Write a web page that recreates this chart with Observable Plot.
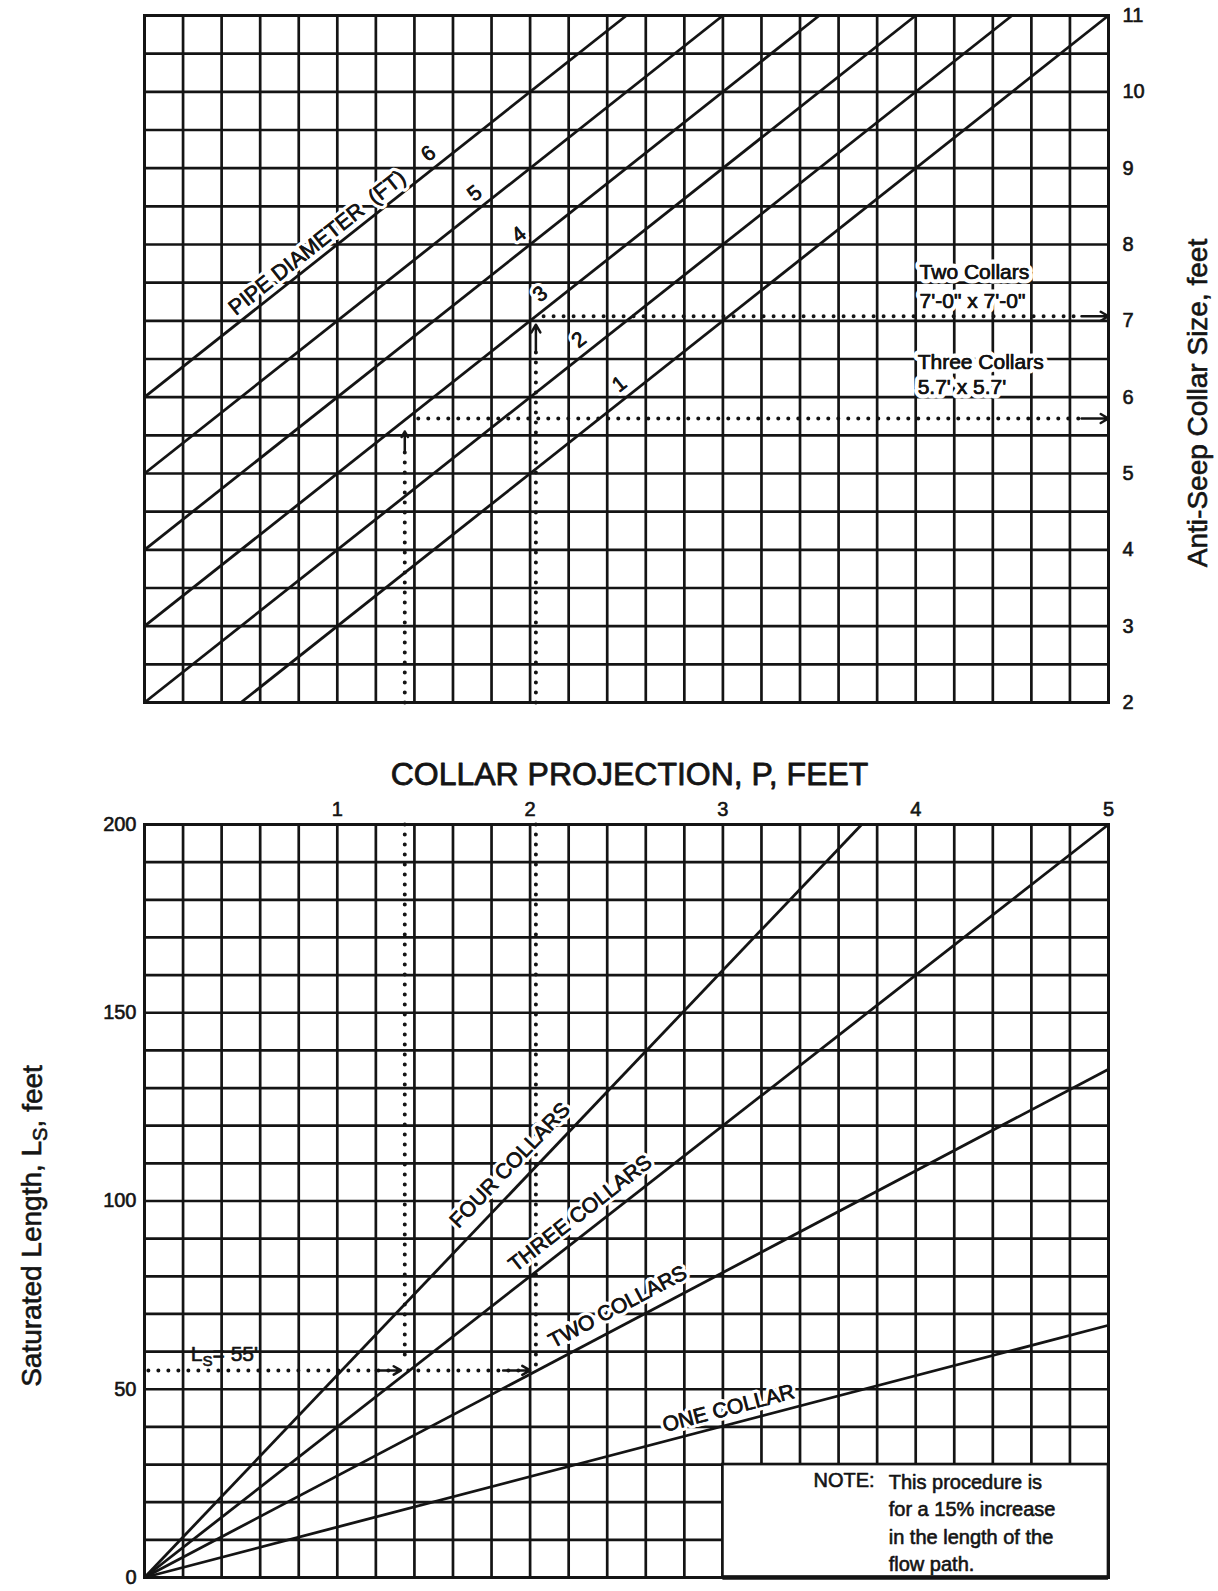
<!DOCTYPE html>
<html>
<head>
<meta charset="utf-8">
<script src="https://cdn.jsdelivr.net/npm/d3@7"></script>
<script src="https://cdn.jsdelivr.net/npm/@observablehq/plot@0.6"></script>
<style>
  html, body { margin: 0; padding: 0; background: #ffffff; }
  #wrap { position: relative; width: 1218px; height: 1591px; background: #ffffff; overflow: hidden; }
  #wrap svg { position: absolute; left: 0; }
  #wrap svg g[aria-label$="tick label"] text { stroke: #141414; stroke-width: 0.6px; }
</style>
</head>
<body>
<div id="wrap"></div>
<script>
// ================= DATA =================
// ---- Top panel: Anti-seep collar size vs. collar projection, by pipe diameter
const pipeDiameters = [1, 2, 3, 4, 5, 6];
const pipeStartP    = [0.5, 0, 0, 0, 0, 0];
const pipeStartSize = [2, 2, 3, 4, 5, 6];
const pipeEndP      = [5, 4.5, 4, 3.5, 3, 2.5];
const pipeEndSize   = [11, 11, 11, 11, 11, 11];
const pipeLabelP    = [2.51, 2.30, 2.10, 1.99, 1.76, 1.52];
const pipeTitle     = "PIPE DIAMETER  (FT)";
const pipeTitleP    = 0.94;
const sizeTicks     = [2, 3, 4, 5, 6, 7, 8, 9, 10, 11];
const sizeDomain    = [2, 11];
const sizeGridStep  = 0.5;
const sizeAxisTitle = "Anti-Seep Collar Size, feet";

// example readings drawn on the top panel
const topGuideP       = [1.35, 2.03];
const topGuideFrom    = [2, 2];
const topGuideTo      = [5.3, 6.6];
const topArrowTo      = [5.55, 6.95];
const collarSizeRead  = [5.72, 7.06];
const collarSizeFromP = [1.42, 2.07];
const readArrowFromP  = [4.86, 4.86];
const readArrowToP    = [5.0, 5.0];
const collarTextTitle = ["Three Collars", "Two Collars"];
const collarTextSize  = ["5.7' x 5.7'", "7'-0\" x 7'-0\""];
const collarTextP     = [4.01, 4.02];
const collarTextY1    = [6.46, 7.64];
const collarTextY2    = [6.13, 7.26];

// ---- Bottom panel: Saturated length vs. collar projection, by number of collars
const collarNames   = ["ONE COLLAR", "TWO COLLARS", "THREE COLLARS", "FOUR COLLARS"];
const collarEndP    = [5, 5, 5, 3.72];
const collarEndLs   = [67, 135, 200, 200];
const collarLabelP  = [3.05, 2.5, 2.32, 1.97];
const collarLabelGap = [9, 12, 12, 13];
const projDomain    = [0, 5];
const projTicks     = [1, 2, 3, 4, 5];
const projGridStep  = 0.2;
const lsDomain      = [0, 200];
const lsTicks       = [0, 50, 100, 150, 200];
const lsGridStep    = 10;
const projTitle     = "COLLAR PROJECTION, P, FEET";
const lsAxisTitle   = "Saturated Length, L_S, feet";

// example reading on the bottom panel
const lsRead          = 55;
const lsReadFromP     = 0.02;
const lsReadToP       = 2.0;
const lsLabel         = "L_S= 55'";
const lsLabelP        = 0.24;
const lsLabelY        = 59.2;
const bottomGuideP    = [1.35, 2.03];
const bottomGuideLow  = [59, 56];
const lsArrowFromP    = [1.2, 1.86];
const lsArrowToP      = [1.33, 2.0];
const noteBox         = {p1: 3, p2: 5, ls1: 0, ls2: 30};
const noteHead        = "NOTE:";
const noteLines       = ["This procedure is", "for a 15% increase", "in the length of the", "flow path."];

// ================= LAYOUT / STYLE =================
const INK = "#141414";
const FONT = '"Liberation Sans", Arial, Helvetica, sans-serif';
const W = 1218;
const TOP = {mt: 15, mb: 28, ml: 144, mr: 110, h: 730, y0: 0};
const BOT = {mt: 94, mb: 14, ml: 144, mr: 110, h: 861, y0: 730};
const GRID_W = 2.7;
const LABEL_GAP = 8;   // px between a sloped line and the text written along it

function gridValues(lo, hi, step) {
  const n = Math.round((hi - lo) / step);
  return d3.range(n + 1).map(i => +(lo + i * step).toFixed(6));
}
function screenAngle(dxData, dyData, pxX, pxY) {
  return -Math.atan2(dyData * pxY, dxData * pxX) * 180 / Math.PI;
}
// lift a point perpendicular to a sloped line (screen px -> data units)
function lift(p, v, angleDeg, gap, pxX, pxY) {
  const th = -angleDeg * Math.PI / 180;
  return [p - gap * Math.sin(th) / pxX, v + gap * Math.cos(th) / pxY];
}

const topPxP = (W - TOP.ml - TOP.mr) / (projDomain[1] - projDomain[0]);
const topPxS = (TOP.h - TOP.mt - TOP.mb) / (sizeDomain[1] - sizeDomain[0]);
const botPxP = (W - BOT.ml - BOT.mr) / (projDomain[1] - projDomain[0]);
const botPxL = (BOT.h - BOT.mt - BOT.mb) / (lsDomain[1] - lsDomain[0]);

const pipes = pipeDiameters.map((d, i) => {
  const slope = (pipeEndSize[i] - pipeStartSize[i]) / (pipeEndP[i] - pipeStartP[i]);
  const angle = screenAngle(1, slope, topPxP, topPxS);
  const [lp, ls] = lift(pipeLabelP[i], pipeStartSize[i] + (pipeLabelP[i] - pipeStartP[i]) * slope, angle, LABEL_GAP, topPxP, topPxS);
  return {d, p1: pipeStartP[i], s1: pipeStartSize[i], p2: pipeEndP[i], s2: pipeEndSize[i], lp, ls, angle};
});
const pipe6 = pipes[pipes.length - 1];
const pipeTitleRow = (() => {
  const s = pipe6.s1 + (pipeTitleP - pipe6.p1) * (pipe6.s2 - pipe6.s1) / (pipe6.p2 - pipe6.p1);
  const [p, v] = lift(pipeTitleP, s, pipe6.angle, LABEL_GAP - 1, topPxP, topPxS);
  return [{p, s: v, angle: pipe6.angle, t: pipeTitle}];
})();

const topVerticals = topGuideP.map((p, i) => ({p, from: topGuideFrom[i], to: topGuideTo[i], arrowTo: topArrowTo[i]}));
const topHorizontals = collarSizeRead.map((s, i) => ({s, from: collarSizeFromP[i], to: readArrowFromP[i], a1: readArrowFromP[i], a2: readArrowToP[i]}));
const collarTexts = collarTextTitle.map((t, i) => ({p: collarTextP[i], y1: collarTextY1[i], y2: collarTextY2[i], t, t2: collarTextSize[i]}));

const collars = collarNames.map((name, i) => {
  const slope = collarEndLs[i] / collarEndP[i];
  const angle = screenAngle(1, slope, botPxP, botPxL);
  const [lp, ll] = lift(collarLabelP[i], collarLabelP[i] * slope, angle, collarLabelGap[i], botPxP, botPxL);
  return {name, p2: collarEndP[i], l2: collarEndLs[i], lp, ll, angle};
});
const bottomVerticals = bottomGuideP.map((p, i) => ({p, low: bottomGuideLow[i]}));
const lsArrows = lsArrowFromP.map((p, i) => ({p1: p, p2: lsArrowToP[i]}));

const dotted = {stroke: INK, strokeWidth: 4, strokeDasharray: "0 10", strokeLinecap: "round"};
const halo = (w) => ({stroke: "white", strokeWidth: w, strokeLinejoin: "round", paintOrder: "stroke", fill: INK});
const ink = {stroke: INK, strokeWidth: 0.6, fill: INK};
// a text drawn with a white halo, then inked over (gives the heavy print look)
function haloText(data, opts, w) {
  return [Plot.text(data, {...opts, ...halo(w)}), Plot.text(data, {...opts, ...ink})];
}

// ================= TOP PANEL =================
const topPlot = Plot.plot({
  width: W, height: TOP.h,
  marginTop: TOP.mt, marginBottom: TOP.mb, marginLeft: TOP.ml, marginRight: TOP.mr,
  style: {fontFamily: FONT, fontSize: "20px", color: INK, background: "transparent", overflow: "visible"},
  x: {domain: projDomain, axis: null},
  y: {domain: sizeDomain, axis: "right", ticks: sizeTicks, tickSize: 0, tickPadding: 14, label: null, tickFormat: d => String(d)},
  marks: [
    Plot.ruleX(gridValues(projDomain[0], projDomain[1], projGridStep), {stroke: INK, strokeWidth: GRID_W}),
    Plot.ruleY(gridValues(sizeDomain[0], sizeDomain[1], sizeGridStep), {stroke: INK, strokeWidth: GRID_W}),
    Plot.frame({stroke: INK, strokeWidth: 3}),
    Plot.link(pipes, {x1: "p1", y1: "s1", x2: "p2", y2: "s2", stroke: INK, strokeWidth: 2.8}),
    // example guides
    Plot.link(topVerticals, {x1: "p", x2: "p", y1: "from", y2: "to", ...dotted}),
    Plot.arrow(topVerticals, {x1: "p", x2: "p", y1: "to", y2: "arrowTo", stroke: INK, strokeWidth: 2.5, headLength: 8}),
    Plot.link(topHorizontals, {x1: "from", x2: "to", y1: "s", y2: "s", ...dotted}),
    Plot.arrow(topHorizontals, {x1: "a1", x2: "a2", y1: "s", y2: "s", stroke: INK, strokeWidth: 2.5, headLength: 8}),
    // labels
    ...haloText(pipes, {x: "lp", y: "ls", text: d => String(d.d), rotate: "angle", lineAnchor: "bottom", fontSize: 21}, 7),
    ...haloText(pipeTitleRow, {x: "p", y: "s", text: "t", rotate: "angle", lineAnchor: "bottom", fontSize: 21.5}, 7),
    ...haloText(collarTexts, {x: "p", y: "y1", text: "t", textAnchor: "start", fontSize: 21}, 9),
    ...haloText(collarTexts, {x: "p", y: "y2", text: "t2", textAnchor: "start", fontSize: 21}, 9),
    Plot.text([sizeAxisTitle], {frameAnchor: "right", textAnchor: "middle", dx: 90, dy: 44, rotate: -90, text: d => d, fontSize: 28, ...ink})
  ]
});

// ================= BOTTOM PANEL =================
const botPlot = Plot.plot({
  width: W, height: BOT.h,
  marginTop: BOT.mt, marginBottom: BOT.mb, marginLeft: BOT.ml, marginRight: BOT.mr,
  style: {fontFamily: FONT, fontSize: "20px", color: INK, background: "transparent", overflow: "visible"},
  x: {domain: projDomain, axis: "top", ticks: projTicks, tickSize: 0, tickPadding: 9, label: null, tickFormat: d => String(d)},
  y: {domain: lsDomain, axis: "left", ticks: lsTicks, tickSize: 0, tickPadding: 8, label: null, tickFormat: d => String(d)},
  marks: [
    Plot.ruleX(gridValues(projDomain[0], projDomain[1], projGridStep), {stroke: INK, strokeWidth: GRID_W}),
    Plot.ruleY(gridValues(lsDomain[0], lsDomain[1], lsGridStep), {stroke: INK, strokeWidth: GRID_W}),
    Plot.rect([noteBox], {x1: "p1", x2: "p2", y1: "ls1", y2: "ls2", fill: "white", stroke: INK, strokeWidth: 2.7}),
    Plot.frame({stroke: INK, strokeWidth: 3}),
    Plot.ruleY([noteBox.ls1], {x1: noteBox.p1, x2: noteBox.p2, stroke: INK, strokeWidth: 4.5}),
    Plot.link(collars, {x1: 0, y1: 0, x2: "p2", y2: "l2", stroke: INK, strokeWidth: 2.8}),
    // example guides
    Plot.link(bottomVerticals, {x1: "p", x2: "p", y1: lsDomain[1], y2: "low", ...dotted}),
    Plot.link([lsRead], {x1: lsReadFromP, x2: lsReadToP, y1: d => d, y2: d => d, ...dotted}),
    Plot.arrow(lsArrows, {x1: "p1", x2: "p2", y1: lsRead, y2: lsRead, stroke: INK, strokeWidth: 2.5, headLength: 8}),
    // labels
    ...haloText(collars, {x: "lp", y: "ll", text: "name", rotate: "angle", lineAnchor: "bottom", fontSize: 21}, 7),
    Plot.text([lsLabel], {x: lsLabelP, y: lsLabelY, text: d => d, textAnchor: "start", fontSize: 21, ...ink}),
    Plot.text([noteHead], {x: noteBox.p1 + 0.47, y: 25.8, text: d => d, textAnchor: "start", fontSize: 20, ...ink}),
    Plot.text([noteLines.join("\n")], {x: noteBox.p1 + 0.86, y: 25.8, text: d => d, textAnchor: "start", lineAnchor: "top", dy: -11, lineHeight: 1.37, fontSize: 20, ...ink}),
    Plot.text([projTitle], {frameAnchor: "top", textAnchor: "middle", dx: 3, dy: -62, text: d => d, fontSize: 32, ...ink, strokeWidth: 0.8}),
    Plot.text([lsAxisTitle], {frameAnchor: "left", textAnchor: "middle", dx: -112, dy: 25, rotate: -90, text: d => d, fontSize: 28, ...ink})
  ]
});

// subscripts for L_S
function subscript(svg) {
  const NS = "http://www.w3.org/2000/svg";
  svg.querySelectorAll("text").forEach(t => {
    if (t.textContent.includes("L_S")) {
      const parts = t.textContent.split("L_S");
      t.textContent = "";
      t.appendChild(document.createTextNode(parts[0] + "L"));
      const sub = document.createElementNS(NS, "tspan");
      sub.setAttribute("dy", "0.28em");
      sub.setAttribute("font-size", "0.72em");
      sub.textContent = "S";
      t.appendChild(sub);
      const rest = document.createElementNS(NS, "tspan");
      rest.setAttribute("dy", "-0.2em");
      rest.textContent = parts[1];
      t.appendChild(rest);
    }
  });
}
subscript(botPlot);

const wrap = document.getElementById("wrap");
topPlot.style.top = TOP.y0 + "px";
botPlot.style.top = BOT.y0 + "px";
wrap.appendChild(topPlot);
wrap.appendChild(botPlot);
</script>
</body>
</html>
